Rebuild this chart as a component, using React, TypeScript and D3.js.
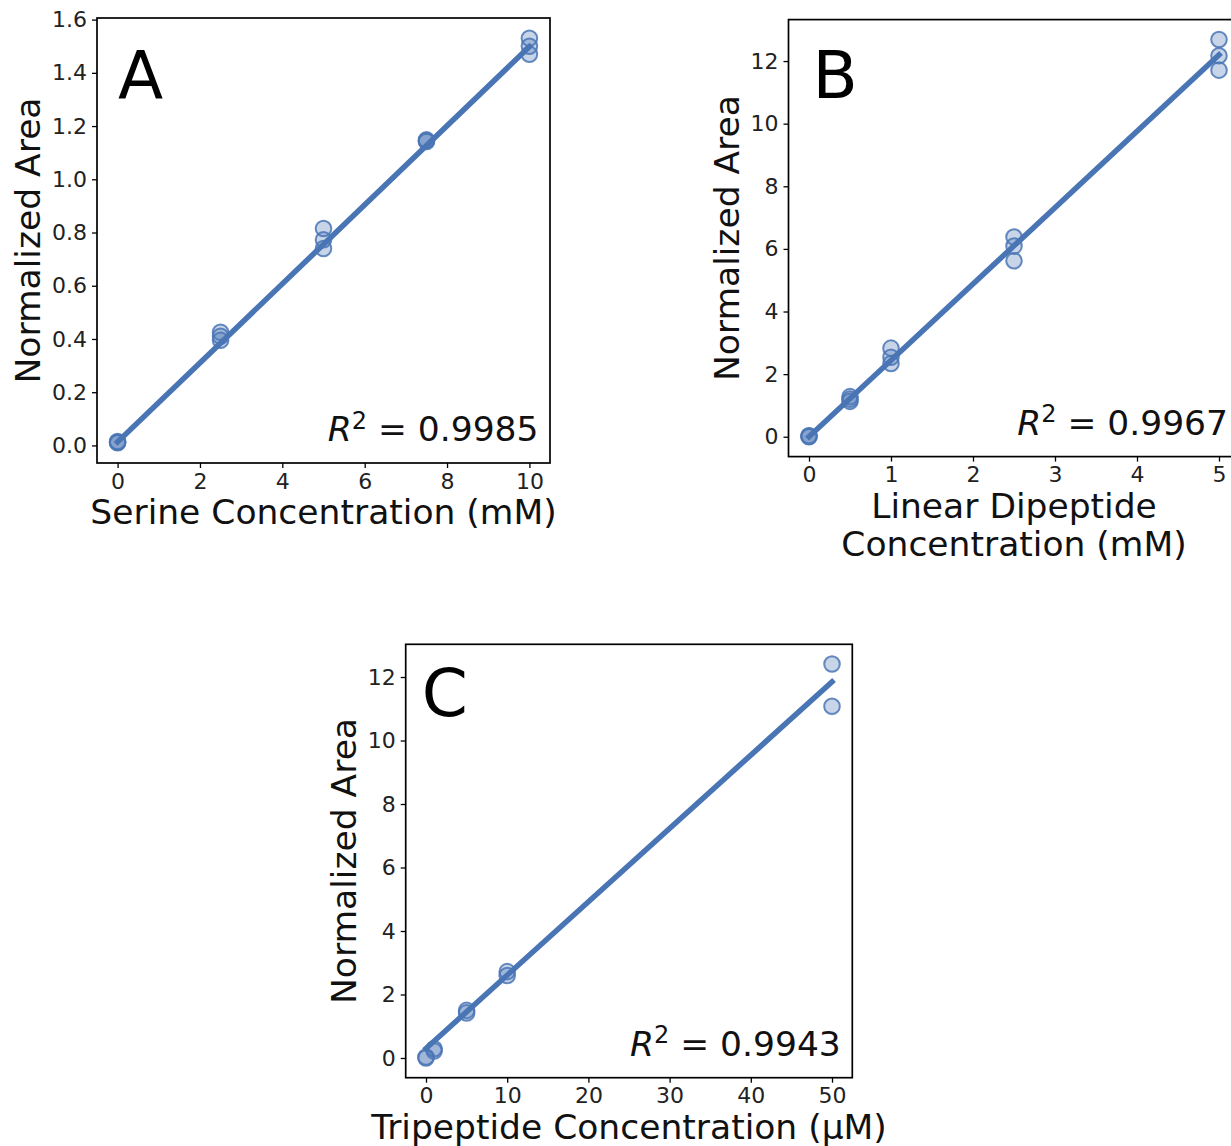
import React, {useEffect, useRef} from "react";
import * as d3 from "d3";

// Panel A - serine standards (mM)
const serineConc = [0, 0, 0, 2.5, 2.5, 2.5, 5, 5, 5, 7.5, 7.5, 7.5, 10, 10, 10];
const serineArea = [0.012, 0.01, 0.015, 0.425, 0.41, 0.395, 0.815, 0.773, 0.74, 1.148, 1.142, 1.145, 1.53, 1.5, 1.47];

// Panel B - linear dipeptide standards (mM)
const dipeptideConc = [0, 0, 0, 0.5, 0.5, 0.5, 1, 1, 1, 2.5, 2.5, 2.5, 5, 5, 5];
const dipeptideArea = [0.02, 0.0, 0.03, 1.28, 1.2, 1.13, 2.83, 2.54, 2.34, 6.38, 6.09, 5.62, 12.69, 12.17, 11.71];

// Panel C - tripeptide standards (uM)
const tripeptideConc = [0, 0, 1, 1, 5, 5, 10, 10, 50, 50];
const tripeptideArea = [0.03, 0.0, 0.29, 0.22, 1.5, 1.42, 2.72, 2.6, 12.41, 11.08];

// linear fits
const fitSlopes = [0.1485, 2.44, 0.231];
const fitIntercepts = [0.013, 0.0, 0.3];
const r2Labels = ["0.9985", "0.9967", "0.9943"];

const xTicksA = [0, 2, 4, 6, 8, 10];
const yTicksA = [0, 0.2, 0.4, 0.6, 0.8, 1.0, 1.2, 1.4, 1.6];
const xTicksB = [0, 1, 2, 3, 4, 5];
const yTicksB = [0, 2, 4, 6, 8, 10, 12];
const xTicksC = [0, 10, 20, 30, 40, 50];
const yTicksC = [0, 2, 4, 6, 8, 10, 12];

const W = 1231;
const H = 1146;
const FONT = "'DejaVu Sans', sans-serif";
const BLUE = "#4a75b5";

const panels = [
    {
        letter: "A", x: serineConc, y: serineArea, xTicks: xTicksA, yTicks: yTicksA, yFmt: d3.format(".1f"),
        xLabel: ["Serine Concentration (mM)"],
        box: {left: 97, top: 18, width: 453, height: 445}, letterAt: [21, 80],
    },
    {
        letter: "B", x: dipeptideConc, y: dipeptideArea, xTicks: xTicksB, yTicks: yTicksB, yFmt: d3.format("d"),
        xLabel: ["Linear Dipeptide", "Concentration (mM)"],
        box: {left: 788.5, top: 19.6, width: 451, height: 437}, letterAt: [24, 78],
    },
    {
        letter: "C", x: tripeptideConc, y: tripeptideArea, xTicks: xTicksC, yTicks: yTicksC, yFmt: d3.format("d"),
        xLabel: ["Tripeptide Concentration (\u03bcM)"],
        box: {left: 405.7, top: 644.3, width: 446.6, height: 433.4}, letterAt: [16, 72],
    },
];

export default function App() {
    const svgRef = useRef<SVGSVGElement | null>(null);

    useEffect(() => {
        if (!svgRef.current) return;
        const svg = d3.select(svgRef.current);
        svg.selectAll("*").remove();

        panels.forEach((p, i) => {
            const w = p.box.width;
            const h = p.box.height;
            const g = svg.append("g").attr("transform", `translate(${p.box.left},${p.box.top})`);

            // matplotlib-style 5% autoscale margins
            const [x0, x1] = d3.extent(p.x) as [number, number];
            const [y0, y1] = d3.extent(p.y) as [number, number];
            const xPad = (x1 - x0) * 0.05;
            const yPad = (y1 - y0) * 0.05;
            const xScale = d3.scaleLinear().domain([x0 - xPad, x1 + xPad]).range([0, w]);
            const yScale = d3.scaleLinear().domain([y0 - yPad, y1 + yPad]).range([h, 0]);

            const pts = d3.zip(p.x, p.y);
            g.append("g")
                .selectAll("circle")
                .data(pts)
                .join("circle")
                .attr("cx", (d) => xScale(d[0]))
                .attr("cy", (d) => yScale(d[1]))
                .attr("r", 7.8)
                .attr("fill", BLUE)
                .attr("fill-opacity", 0.3)
                .attr("stroke", BLUE)
                .attr("stroke-opacity", 0.85)
                .attr("stroke-width", 2);

            const fit = [x0, x1].map((v) => [v, fitSlopes[i] * v + fitIntercepts[i]] as [number, number]);
            g.append("path")
                .datum(fit)
                .attr("d", d3.line().x((d) => xScale(d[0])).y((d) => yScale(d[1])))
                .attr("fill", "none")
                .attr("stroke", BLUE)
                .attr("stroke-width", 5.5)
                .attr("stroke-linecap", "square");

            // axes
            const xAxis = g.append("g")
                .attr("transform", `translate(0,${h})`)
                .call(d3.axisBottom(xScale).tickValues(p.xTicks).tickFormat(d3.format("d")).tickSize(5).tickPadding(5).tickSizeOuter(0));
            const yAxis = g.append("g")
                .call(d3.axisLeft(yScale).tickValues(p.yTicks).tickFormat((d) => p.yFmt(d as number)).tickSize(5).tickPadding(5).tickSizeOuter(0));
            [xAxis, yAxis].forEach((ax) => {
                ax.select(".domain").remove();
                ax.attr("font-family", FONT).attr("font-size", 22);
                ax.selectAll("line").attr("stroke", "#000").attr("stroke-width", 1.3);
                ax.selectAll("text").attr("fill", "#222");
            });

            g.append("rect")
                .attr("width", w)
                .attr("height", h)
                .attr("fill", "none")
                .attr("stroke", "#000")
                .attr("stroke-width", 1.7);

            // axis titles
            const yb = (yAxis.node() as SVGGElement).getBBox();
            g.append("text")
                .attr("transform", `translate(${yb.x - 12},${h / 2}) rotate(-90)`)
                .attr("text-anchor", "middle")
                .attr("font-family", FONT)
                .attr("font-size", 34.5)
                .attr("fill", "#111")
                .text("Normalized Area");

            p.xLabel.forEach((line, k) => {
                g.append("text")
                    .attr("x", w / 2)
                    .attr("y", h + 61 + k * 38)
                    .attr("text-anchor", "middle")
                    .attr("font-family", FONT)
                    .attr("font-size", 34.5)
                    .attr("fill", "#111")
                    .text(line);
            });

            // panel letter
            g.append("text")
                .attr("x", p.letterAt[0])
                .attr("y", p.letterAt[1])
                .attr("font-family", FONT)
                .attr("font-size", 66)
                .attr("fill", "#000")
                .text(p.letter);

            // R^2 annotation
            const r2 = g.append("text")
                .attr("x", w - 11.5)
                .attr("y", h - 22)
                .attr("text-anchor", "end")
                .attr("font-family", FONT)
                .attr("font-size", 34.5)
                .attr("fill", "#111");
            r2.append("tspan").attr("font-style", "italic").text("R");
            r2.append("tspan").attr("dy", -12.5).attr("font-size", 24).text("2");
            r2.append("tspan").attr("dy", 12.5).text(` = ${r2Labels[i]}`);
        });
    }, []);

    return (
        <svg
            ref={svgRef}
            width={W}
            height={H}
            style={{position: "absolute", left: 0, top: 0, background: "#fff", display: "block"}}
        />
    );
}
